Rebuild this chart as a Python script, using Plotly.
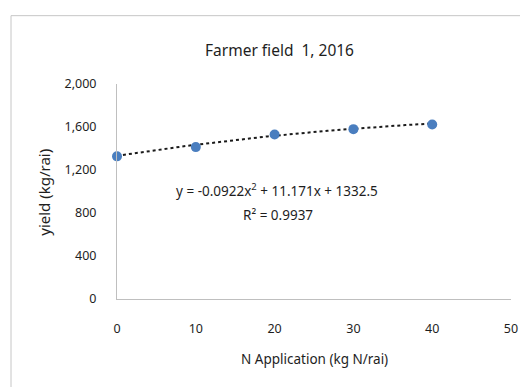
import numpy as np
import plotly.graph_objects as go

# Data
n_rate = [0, 10, 20, 30, 40]
yield_kg = [1327, 1413, 1531, 1580, 1623]
trend_coef = [-0.0922, 11.171, 1332.5]  # quadratic trendline as displayed
r_squared = 0.9937
title_text = "Farmer field  1, 2016"
x_ticks = [0, 10, 20, 30, 40, 50]
y_ticks = [0, 400, 800, 1200, 1600, 2000]

FONT = "Noto Sans"
TXT = "#1e1e1e"

xt = np.linspace(0, 40, 200)
yt = np.polyval(trend_coef, xt)

fig = go.Figure()
fig.add_trace(go.Scatter(
    x=xt, y=yt, mode="lines",
    line=dict(color="#1a1a1a", width=2, dash="dot"),
    hoverinfo="skip", showlegend=False, cliponaxis=False))
fig.add_trace(go.Scatter(
    x=n_rate, y=yield_kg, mode="markers",
    marker=dict(color="#4a7ebf", size=10),
    showlegend=False, cliponaxis=False))

fig.update_layout(
    width=520, height=387,
    margin=dict(l=117, r=9, t=84, b=88, pad=0, autoexpand=False),
    paper_bgcolor="white", plot_bgcolor="white",
    font=dict(family=FONT, size=12, color=TXT),
    showlegend=False,
)
fig.update_xaxes(
    range=[0, 50], tickvals=x_ticks, showgrid=False, zeroline=False,
    showline=True, linecolor="#bfbfbf", linewidth=1, ticks="", automargin=False,
    ticklabelstandoff=18, tickfont=dict(family=FONT, size=12.5, color=TXT))
fig.update_yaxes(
    range=[0, 2000], tickvals=y_ticks, tickformat=",", showgrid=False,
    zeroline=False, showline=True, linecolor="#bfbfbf", linewidth=1, ticks="", automargin=False,
    ticklabelstandoff=17, tickfont=dict(family=FONT, size=12.5, color=TXT))

eq = "y = %.4fx<sup>2</sup> + %.3fx + %.1f" % (trend_coef[0], trend_coef[1], trend_coef[2])
anns = [
    dict(text=title_text, xref="paper", yref="paper", x=(279 - 117) / 394, y=(299.5 - 50) / 215.5,
         showarrow=False, font=dict(family=FONT, size=15.5, color=TXT), xanchor="center", yanchor="middle"),
    dict(text=eq, xref="paper", yref="paper", x=(277 - 117) / 394, y=(299.5 - 190) / 215.5,
         showarrow=False, font=dict(family=FONT, size=13.5, color=TXT), xanchor="center", yanchor="middle"),
    dict(text="R² = %.4f" % r_squared, xref="paper", yref="paper", x=(278 - 117) / 394, y=(299.5 - 215) / 215.5,
         showarrow=False, font=dict(family=FONT, size=13.5, color=TXT), xanchor="center", yanchor="middle"),
    dict(text="yield (kg/rai)", xref="paper", yref="paper", x=(44 - 117) / 394, y=(299.5 - 193) / 215.5,
         showarrow=False, textangle=-90, font=dict(family=FONT, size=15, color=TXT),
         xanchor="center", yanchor="middle"),
    dict(text="N Application (kg N/rai)", xref="paper", yref="paper", x=(314 - 117) / 394, y=(299.5 - 360) / 215.5,
         showarrow=False, font=dict(family=FONT, size=13.5, color=TXT), xanchor="center", yanchor="middle"),
]
fig.update_layout(annotations=anns)

# outer chart border (left and top visible)
fig.add_shape(type="rect", xref="paper", yref="paper",
              x0=(11 - 117) / 394, y0=(299.5 - 400) / 215.5,
              x1=(540 - 117) / 394, y1=(299.5 - 15.5) / 215.5,
              line=dict(color="#c6c6c6", width=1), fillcolor="rgba(0,0,0,0)", layer="below")

fig.write_html("out.html")
